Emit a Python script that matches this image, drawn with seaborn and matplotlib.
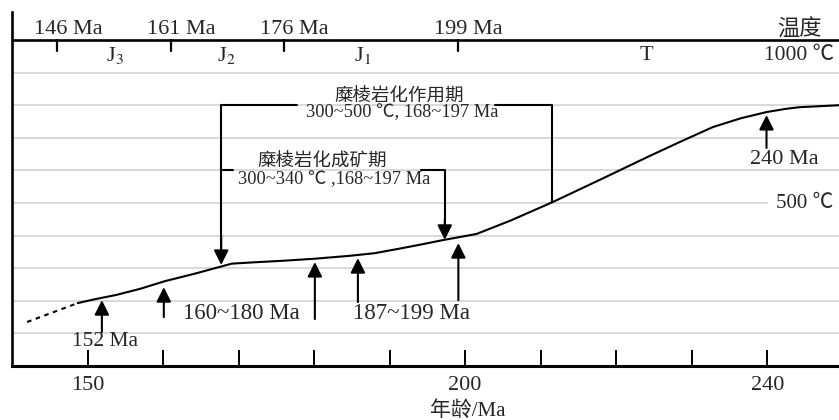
import numpy as np
import pandas as pd
import matplotlib
matplotlib.use("Agg")
import matplotlib.pyplot as plt
import seaborn as sns

# curve (age in Ma, temperature in degC)
age_dashed = [142.0, 148.7]
temp_dashed = [135, 193]
age_curve = [148.7, 151.0, 153.8, 157.0, 160.2, 164.0, 169.1, 172.0, 176.0, 180.0,
             184.7, 188.0, 191.3, 194.0, 197.0, 201.5, 206.0, 211.6, 218.0, 224.4,
             228.4, 232.8, 236.5, 239.9, 242.5, 244.3, 249.5]
temp_curve = [193, 205, 218, 237, 260, 282, 314, 318, 323, 329,
              338, 346, 360, 372, 386, 405, 446, 503, 573, 644,
              687, 733, 760, 779, 789, 794, 800]

# period boundaries on the top band
bound_ages = [146, 161, 176, 199]
bound_labels = ["146 Ma", "161 Ma", "176 Ma", "199 Ma"]
period_ages = [153.6, 168.4, 186.4, 224.0]
period_labels = ["J$_{3}$", "J$_{2}$", "J$_{1}$", "T"]

# upward arrows (age, tail temp, tip temp)
up_age = [151.9, 160.1, 180.1, 185.8, 199.1, 239.9]
up_tail = [104, 150, 144, 196, 202, 669]
up_tip = [202, 242, 319, 331, 377, 770]

xticks = list(range(150, 241, 10))
xtick_labels = ["150", "", "", "", "", "200", "", "", "", "240"]

sns.set_style("white")
plt.rcParams["font.family"] = ["Liberation Serif", "Noto Sans CJK SC"]
plt.rcParams["mathtext.fontset"] = "stix"

fig = plt.figure(figsize=(8.39, 4.2), dpi=100)
ax = fig.add_axes([12 / 839, 54 / 420, 827 / 839, 354 / 420])
ax.set_xlim(140, 249.5)
ax.set_ylim(0, 1086)

# gridlines every 100 degC
for t in range(100, 1000, 100):
    ax.axhline(t, color="#cfcfcf", lw=1.1, zorder=0)
ax.axhline(1000, color="black", lw=1.9, zorder=2)

df = pd.DataFrame({"age": age_curve, "temp": temp_curve})
sns.lineplot(data=df, x="age", y="temp", ax=ax, color="black", lw=1.5, sort=False,
             estimator=None)
ax.plot(age_dashed, temp_dashed, color="black", lw=1.5, linestyle=(0, (2.2, 2.2)))

# top band
for a, lab in zip(bound_ages, bound_labels):
    ax.plot([a, a], [1000, 965], color="black", lw=1.6)
    ax.text(a + 1.4, 1032, lab, ha="center", va="center", fontsize=16)
for a, lab in zip(period_ages, period_labels):
    ax.text(a, 952, lab, ha="center", va="center", fontsize=16)
ax.text(244.2, 1031, "温度", ha="center", va="center", fontsize=16)
ax.text(244.2, 954, "1000 ℃", ha="center", va="center", fontsize=15.5)
ax.text(245.0, 500, "500 ℃", ha="center", va="center", fontsize=15,
        bbox=dict(facecolor="white", edgecolor="none", pad=6))

arrow = dict(arrowstyle="-|>", mutation_scale=22, lw=1.5, color="black",
             shrinkA=0, shrinkB=0)
for a, t0, t1 in zip(up_age, up_tail, up_tip):
    ax.annotate("", xy=(a, t1), xytext=(a, t0), arrowprops=arrow)

ax.text(152.25, 74, "152 Ma", ha="center", va="center", fontsize=15.5)
ax.text(170.4, 160, "160~180 Ma", ha="center", va="center", fontsize=16.5)
ax.text(192.9, 160, "187~199 Ma", ha="center", va="center", fontsize=16.5)
ax.text(242.2, 632, "240 Ma", ha="center", va="center", fontsize=16)

# bracket: mylonitization period
ax.plot([177.8, 167.7, 167.7], [801, 801, 330], color="black", lw=1.5)
ax.annotate("", xy=(167.7, 310), xytext=(167.7, 400), arrowprops=arrow)
ax.plot([203.9, 211.5, 211.5], [801, 801, 503], color="black", lw=1.5)
ax.text(191.2, 825, "糜棱岩化作用期", ha="center", va="center", fontsize=13.3)
ax.text(191.6, 776, "300~500 ℃, 168~197 Ma", ha="center", va="center", fontsize=13.2)

# bracket: mineralization period
ax.plot([167.7, 169.2], [601, 601], color="black", lw=1.5)
ax.plot([194.2, 197.3, 197.3], [601, 601, 420], color="black", lw=1.5)
ax.annotate("", xy=(197.3, 387), xytext=(197.3, 450), arrowprops=arrow)
ax.text(181.0, 626, "糜棱岩化成矿期", ha="center", va="center", fontsize=13.3)
ax.text(182.7, 571, "300~340 ℃ ,168~197 Ma", ha="center", va="center", fontsize=13.2)

# axes styling
ax.set_xticks(xticks)
ax.set_xticklabels(xtick_labels, fontsize=16)
ax.set_yticks([])
ax.tick_params(axis="x", bottom=True, direction="in", length=11.5, width=1.4, pad=7,
               color="black")
ax.set_xlabel("年龄/Ma", fontsize=15)
ax.xaxis.set_label_coords((468 - 12) / 827, -0.098)
ax.set_ylabel("")
for side in ["top", "right"]:
    ax.spines[side].set_visible(False)
ax.spines["left"].set_linewidth(1.9)
ax.spines["bottom"].set_linewidth(2.2)
ax.spines["left"].set_color("black")
ax.spines["bottom"].set_color("black")

fig.savefig("out.png", dpi=100)
